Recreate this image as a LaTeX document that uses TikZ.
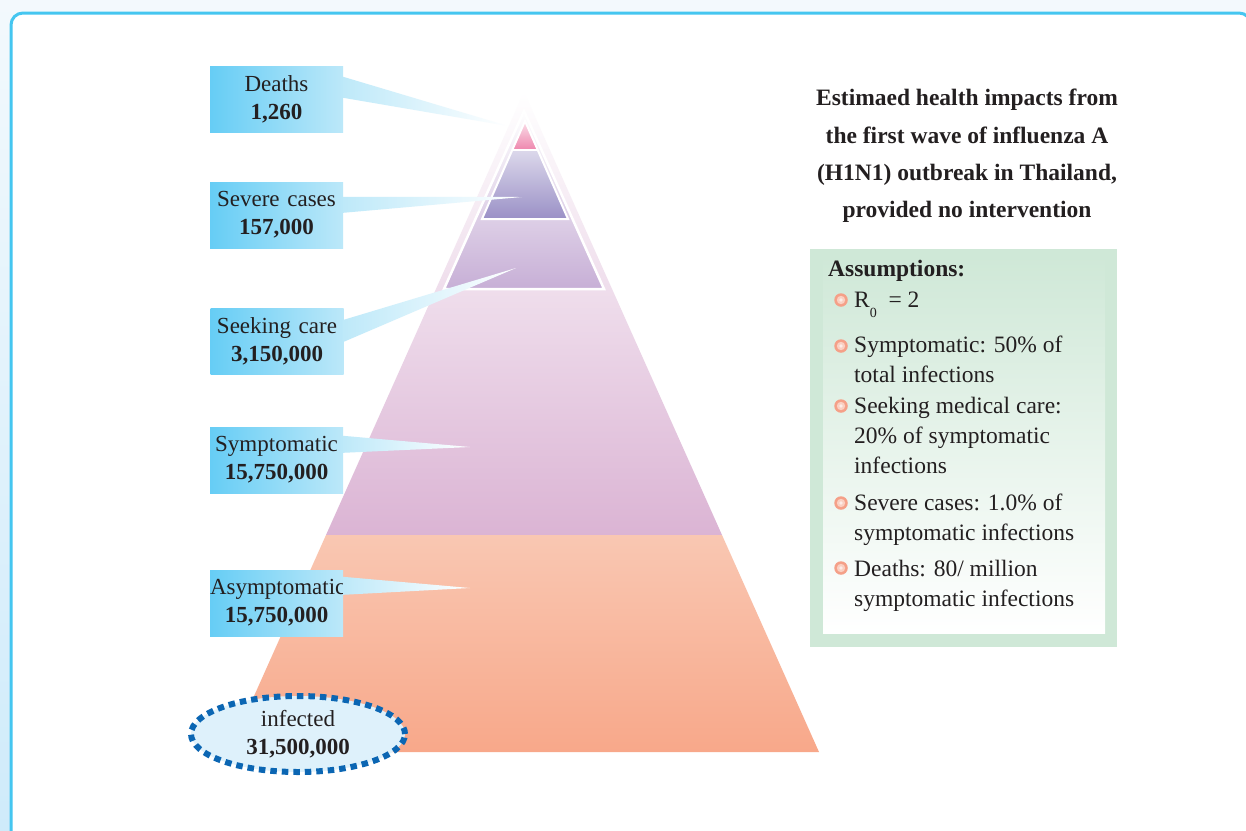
\documentclass[tikz,border=0pt]{standalone}
\usepackage{fontspec}
\setmainfont{Liberation Serif}
\usetikzlibrary{shapes.geometric,calc}
\definecolor{bgtop}{HTML}{F3F9FD}
\definecolor{bgbot}{HTML}{CFEBFA}
\definecolor{frameblue}{HTML}{45C6F0}
\definecolor{purpbot}{HTML}{DBB4D4}
\definecolor{orgtop}{HTML}{F9C7B2}
\definecolor{orgbot}{HTML}{F8A88A}
\definecolor{seekbot}{HTML}{C7AFD6}
\definecolor{sevtop}{HTML}{DCD8EB}
\definecolor{sevbot}{HTML}{9A90C6}
\definecolor{dthtop}{HTML}{FAE0EA}
\definecolor{dthbot}{HTML}{EE86AD}
\definecolor{boxl}{HTML}{66CDF5}
\definecolor{boxr}{HTML}{BCE8F9}
\definecolor{wedgel}{HTML}{BEE9F9}
\definecolor{ellfill}{HTML}{DEF1FB}
\definecolor{elldraw}{HTML}{0B66B3}
\definecolor{greenb}{HTML}{CFE8D7}
\definecolor{bulc}{HTML}{F5A088}
\definecolor{bulin}{HTML}{FAD0C2}
\definecolor{ink}{HTML}{231F20}
\begin{document}
\begin{tikzpicture}[x=1pt,y=-1pt,
  lbl/.style={font=\fontsize{23}{28}\selectfont, text=ink, align=center},
  calloutbox/.style={rectangle, minimum width=133pt, text width=133pt, minimum height=66pt, inner sep=0pt,
    left color=boxl, right color=boxr, lbl},
  wedge/.style={left color=wedgel, right color=white},
  titleline/.style={font=\fontsize{23.5}{28}\selectfont\bfseries, text=ink, anchor=base, inner sep=0pt},
  asline/.style={font=\fontsize{23.5}{28}\selectfont, text=ink, anchor=base west, inner sep=0pt},
  bul/.style={circle, inner sep=0pt, minimum size=13.5pt, fill=bulc,
    path picture={\fill[bulin] (path picture bounding box.center) circle (4.2pt);
                  \fill[white!60!bulin] (path picture bounding box.center) circle (1.8pt);}},
  infect/.style={ellipse, minimum width=214pt, minimum height=76pt, inner sep=0pt,
    fill=ellfill, draw=elldraw, line width=6pt, dash pattern=on 6.5pt off 5pt, lbl}
]
\useasboundingbox (0,0) rectangle (1246,830);
% background and frame
\shade[top color=bgtop, bottom color=bgbot] (0,0) rectangle (1246,830);
\draw[fill=white, draw=frameblue, line width=3pt, rounded corners=12pt] (11,13) rectangle (1251,860);

% pyramid
\shade[top color=white, bottom color=purpbot] (524,92) -- (722,535) -- (326,535) -- cycle;
\shade[top color=orgtop, bottom color=orgbot] (326,535) -- (722,535) -- (819,752) -- (229,752) -- cycle;
\shade[top color=white, bottom color=seekbot] (524,111) -- (604,289) -- (444,289) -- cycle;
\draw[white, line width=2.5pt] (524,111) -- (604,289) -- (444,289) -- cycle;
\shade[top color=sevtop, bottom color=sevbot] (512.3,150) -- (537.7,150) -- (568,219) -- (482,219) -- cycle;
\shade[top color=dthtop, bottom color=dthbot] (525,121) -- (537.7,150) -- (512.3,150) -- cycle;
\draw[white, line width=2pt] (525,121) -- (568,219) -- (482,219) -- cycle;
\draw[white, line width=2pt] (512.3,150) -- (537.7,150);

% callout boxes
\node[calloutbox] (deaths) at (276.5,99.5) {Deaths\\\textbf{1,260}};
\node[calloutbox] (severe) at (276.5,215) {Severe cases\\\textbf{157,000}};
\node[calloutbox] (seek) at (277,341) {Seeking care\\\textbf{3,150,000}};
\node[calloutbox] (sympt) at (276.5,460) {Symptomatic\\\textbf{15,750,000}};
\node[calloutbox] (asym) at (276.5,603) {Asymptomatic\\\textbf{15,750,000}};

% pointer tips
\coordinate (tipD) at (508,126);
\coordinate (tipS) at (522,197);
\coordinate (tipC) at (516,268);
\coordinate (tipY) at (470,447);
\coordinate (tipA) at (470,588);

% wedges
\shade[wedge] ($(deaths.north east)+(0,10.5)$) -- (tipD) -- ($(deaths.north east)+(0,31.5)$) -- cycle;
\shade[wedge] ($(severe.north east)+(0,15)$) -- (tipS) -- ($(severe.north east)+(0,31)$) -- cycle;
\shade[wedge] ($(seek.north east)+(0,12)$) -- (tipC) -- ($(seek.north east)+(0,34)$) -- cycle;
\shade[wedge] ($(sympt.north east)+(0,9)$) -- (tipY) -- ($(sympt.north east)+(0,26)$) -- cycle;
\shade[wedge] ($(asym.north east)+(0,7)$) -- (tipA) -- ($(asym.north east)+(0,25)$) -- cycle;

% infected ellipse
\node[infect] (infected) at (298,734) {infected\\\textbf{31,500,000}};

% title
\node[titleline] (t1) at (967,105) {Estimaed health impacts from};
\node[titleline] (t2) at (967,143) {the first wave of influenza A};
\node[titleline] (t3) at (967,180) {(H1N1) outbreak in Thailand,};
\node[titleline] (t4) at (967,217) {provided no intervention};

% assumptions box
\fill[greenb] (810,249) rectangle (1117,647);
\shade[top color=greenb, bottom color=white] (823,256) rectangle (1105,633);
\node[asline, font=\fontsize{23.5}{28}\selectfont\bfseries] (ah) at (828,276) {Assumptions:};
\node[bul] (b1) at (841,300) {};
\node[bul] (b2) at (841,346) {};
\node[bul] (b3) at (841,406) {};
\node[bul] (b4) at (841,503) {};
\node[bul] (b5) at (841,568) {};
\node[asline] (l1) at (854,307) {R\raisebox{-10pt}{\fontsize{14}{14}\selectfont 0}\ \ = 2};
\node[asline] (l2) at (854,352) {Symptomatic: 50\% of};
\node[asline] (l3) at (854,382) {total infections};
\node[asline] (l4) at (854,413) {Seeking medical care:};
\node[asline] (l5) at (854,443) {20\% of symptomatic};
\node[asline] (l6) at (854,473) {infections};
\node[asline] (l7) at (854,510) {Severe cases: 1.0\% of};
\node[asline] (l8) at (854,540) {symptomatic infections};
\node[asline] (l9) at (854,576) {Deaths: 80/ million};
\node[asline] (l10) at (854,606) {symptomatic infections};
\end{tikzpicture}
\end{document}
